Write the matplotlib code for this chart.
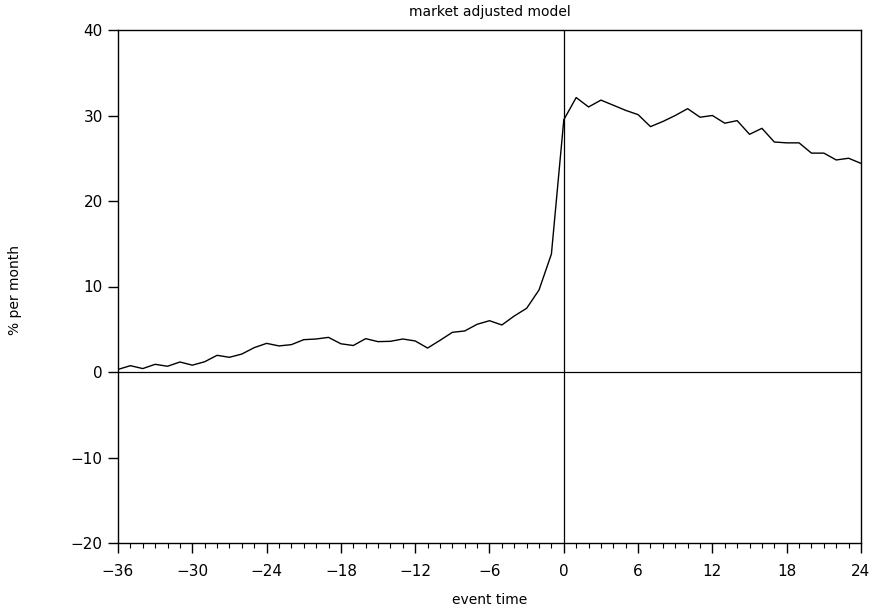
import matplotlib
matplotlib.use("Agg")
import matplotlib.pyplot as plt
from matplotlib.ticker import MultipleLocator

event_time = list(range(-36, 25))
car = [0.3, 0.74, 0.4, 0.9, 0.67, 1.17, 0.8, 1.2, 1.95, 1.72,
       2.1, 2.85, 3.35, 3.05, 3.2, 3.78, 3.86, 4.05, 3.3, 3.1,
       3.9, 3.55, 3.59, 3.86, 3.63, 2.8, 3.7, 4.64, 4.8, 5.58,
       6.0, 5.5, 6.55, 7.45, 9.6, 13.8, 29.5, 32.1, 31.0, 31.8,
       31.2, 30.6, 30.1, 28.7, 29.3, 30.0, 30.8, 29.8, 30.0, 29.1,
       29.4, 27.8, 28.5, 26.9, 26.8, 26.8, 25.6, 25.6, 24.8, 25.0,
       24.4]
x_ticks = [-36, -30, -24, -18, -12, -6, 0, 6, 12, 18, 24]
y_ticks = [-20, -10, 0, 10, 20, 30, 40]

plt.rcParams['font.family'] = ['DejaVu Sans']

fig = plt.figure(figsize=(8.79, 6.10), dpi=100)
ax = fig.add_axes([118/879, 1-543/610, (861-118)/879, (543-30)/610])

ax.plot(event_time, car, color='black', lw=1.0)
ax.axhline(0, color='black', lw=0.9)
ax.axvline(0, color='black', lw=0.9)

ax.set_xlim(-36, 24)
ax.set_ylim(-20, 40)
ax.set_xticks(x_ticks)
ax.set_xticklabels([str(v).replace('-', '\u2212') for v in x_ticks])
ax.set_yticks(y_ticks)
ax.set_yticklabels([str(v).replace('-', '\u2212') for v in y_ticks])
ax.xaxis.set_minor_locator(MultipleLocator(1))

ax.tick_params(axis='x', which='major', direction='out', length=7, width=1, labelsize=11, pad=8)
ax.tick_params(axis='x', which='minor', direction='out', length=3.5, width=0.8)
ax.tick_params(axis='y', which='major', direction='out', length=7, width=1, labelsize=11, pad=4)
for s in ax.spines.values():
    s.set_linewidth(1.0)

fig.text(490/879, 1-12/610, 'market adjusted model', ha='center', va='center', fontsize=10)
fig.text(490/879, 1-600/610, 'event time', ha='center', va='center', fontsize=10)
fig.text(15/879, 1-290/610, '% per month', rotation=90, ha='center', va='center', fontsize=10)

fig.savefig('out.png', dpi=100)
